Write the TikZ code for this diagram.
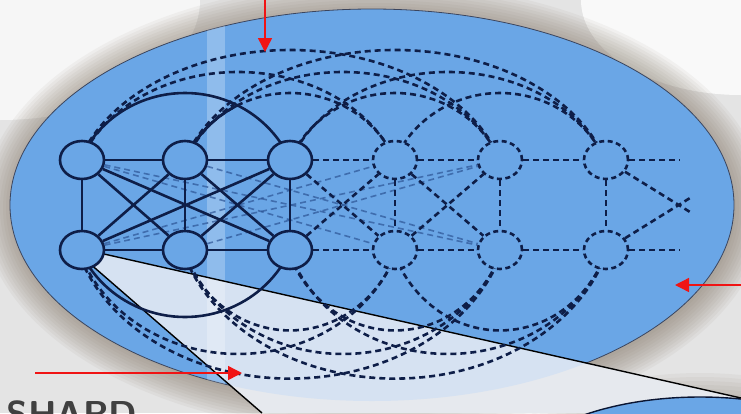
\documentclass[tikz,border=0pt]{standalone}
\usepackage{tikz}
\usetikzlibrary{shapes.geometric,arrows.meta}
\definecolor{navy}{RGB}{14,30,72}
\definecolor{lensblue}{RGB}{106,166,230}
\definecolor{wedgefill}{RGB}{214,226,242}
\definecolor{wedgeout}{RGB}{230,233,238}
\definecolor{halo}{RGB}{120,108,90}
\definecolor{bggrey}{RGB}{228,228,228}
\definecolor{faintline}{RGB}{45,85,150}
\definecolor{arrowred}{RGB}{240,20,20}

\tikzset{
  vtx/.style={ellipse,draw=navy,fill=lensblue,line width=2.6pt,minimum width=44pt,minimum height=38pt,inner sep=0pt},
  ghost/.style={vtx,dash pattern=on 5pt off 3.5pt},
  edge/.style={draw=navy,line width=2.6pt},
  dedge/.style={edge,dash pattern=on 6pt off 4pt},
  faint/.style={draw=faintline,line width=1.6pt,dash pattern=on 6pt off 4pt,opacity=0.7},
  pointer/.style={draw=arrowred,line width=1.4pt,-{Triangle[length=14pt,width=14pt]}}
}

\begin{document}
\begin{tikzpicture}[x=1pt,y=-1pt]
	\useasboundingbox (0,0) rectangle (741,413);
	\clip (0,0) rectangle (741,413);
	\def\lens{(372,205) ellipse [x radius=362, y radius=196]}
	\def\layers{290/115/112,395/115/112,500/115/112,238/167/133,343/167/133,448/167/133,290/220/155,395/220/155}
	% background and shadow
	\fill[bggrey] (0,0) rectangle (741,413);
	\fill[white,opacity=0.7] (0,0) ellipse [x radius=200, y radius=120];
	\fill[white,opacity=0.8] (741,0) ellipse [x radius=160, y radius=95];
	\foreach \r in {30,27,...,0}
		\fill[halo,opacity=0.06] (374,208) ellipse [x radius=362+\r, y radius=196+\r];
	\foreach \r in {24,20,...,0}
		\fill[halo,opacity=0.06] (700,497) ellipse [x radius=203+\r, y radius=100+\r];
	\fill[lensblue] \lens;
	\draw[line width=0.8pt,navy!60!gray] \lens;
	% magnified wedge
	\fill[wedgeout] (88,262) -- (262,413) -- (741,413) -- (741,398) -- (104,254) -- cycle;
	\begin{scope}
		\clip \lens;
		\fill[wedgefill] (88,262) -- (262,413) -- (741,413) -- (741,398) -- (104,254) -- cycle;
		\fill[white,opacity=0.25] (207,0) rectangle (225,413);
	\end{scope}
	\filldraw[fill=lensblue,draw=navy!70!black,line width=1.4pt] (700,497) ellipse [x radius=203, y radius=100];
	\draw[line width=1.4pt,black] (88,262) -- (262,413);
	\draw[line width=1.4pt,black] (104,254) -- (741,398);

	% arcs of the layers, upper and lower halves
	\begin{scope}
		\clip (82,0) rectangle (606,160);
		\foreach \cx/\rx/\ry in \layers
			\draw[dedge] (\cx,205) ellipse [x radius=\rx, y radius=\ry];
		\draw[edge] (185,205) ellipse [x radius=115, y radius=112];
	\end{scope}
	\begin{scope}
		\clip (82,250) rectangle (606,413);
		\foreach \cx/\rx/\ry in \layers
			\draw[dedge] (\cx,205) ellipse [x radius=\rx, y radius=1.12*\ry];
		\draw[edge] (185,205) ellipse [x radius=115, y radius=112];
	\end{scope}
	\begin{scope}
		\clip (185,205) ellipse [x radius=115, y radius=112];
		\clip (185,0) rectangle (290,160);
		\draw[edge] (290,205) ellipse [x radius=115, y radius=112];
	\end{scope}

	% vertices
	\foreach \n/\x in {1/82,2/185,3/290}{
		\node[vtx] (t\n) at (\x,160) {};
		\node[vtx] (b\n) at (\x,250) {};
	}
	\foreach \n/\x in {4/395,5/500,6/606}{
		\node[ghost] (t\n) at (\x,160) {};
		\node[ghost] (b\n) at (\x,250) {};
	}
	\coordinate (e1) at (680,160);
	\coordinate (e2) at (680,250);
	\coordinate (x1) at (690,212);
	\coordinate (x2) at (690,198);

	% edges
	\foreach \a/\b in {t1/b4,b1/t4,t1/b5,b1/t5,t2/b5,b2/t5}
		\draw[faint] (\a) -- (\b);
	\foreach \a/\b in {t1/t2,t2/t3,b1/b2,b2/b3,t1/b1,t2/b2,t3/b3,t1/b2,t1/b3,t2/b1,t2/b3,t3/b1,t3/b2}
		\draw[edge] (\a) -- (\b);
	\foreach \a/\b in {t3/t4,t4/t5,t5/t6,b3/b4,b4/b5,b5/b6,t4/b4,t5/b5,t6/b6,t3/b4,b3/t4,t4/b5,b4/t5,t6/e1,b6/e2,t6/x1,b6/x2}
		\draw[dedge] (\a) -- (\b);

	\node[anchor=north west,inner sep=0pt,text=black!75,font=\sffamily\bfseries\fontsize{36}{40}\selectfont] (title) at (6,401) {SHARD};

	% red pointers
	\coordinate (topTail) at (265,-2);
	\coordinate (topTip) at (265,52);
	\coordinate (rightTail) at (745,285);
	\coordinate (rightTip) at (675,285);
	\coordinate (leftTail) at (35,373);
	\coordinate (leftTip) at (242,373);
	\draw[pointer] (topTail) -- (topTip);
	\draw[pointer] (rightTail) -- (rightTip);
	\draw[pointer] (leftTail) -- (leftTip);
\end{tikzpicture}
\end{document}
